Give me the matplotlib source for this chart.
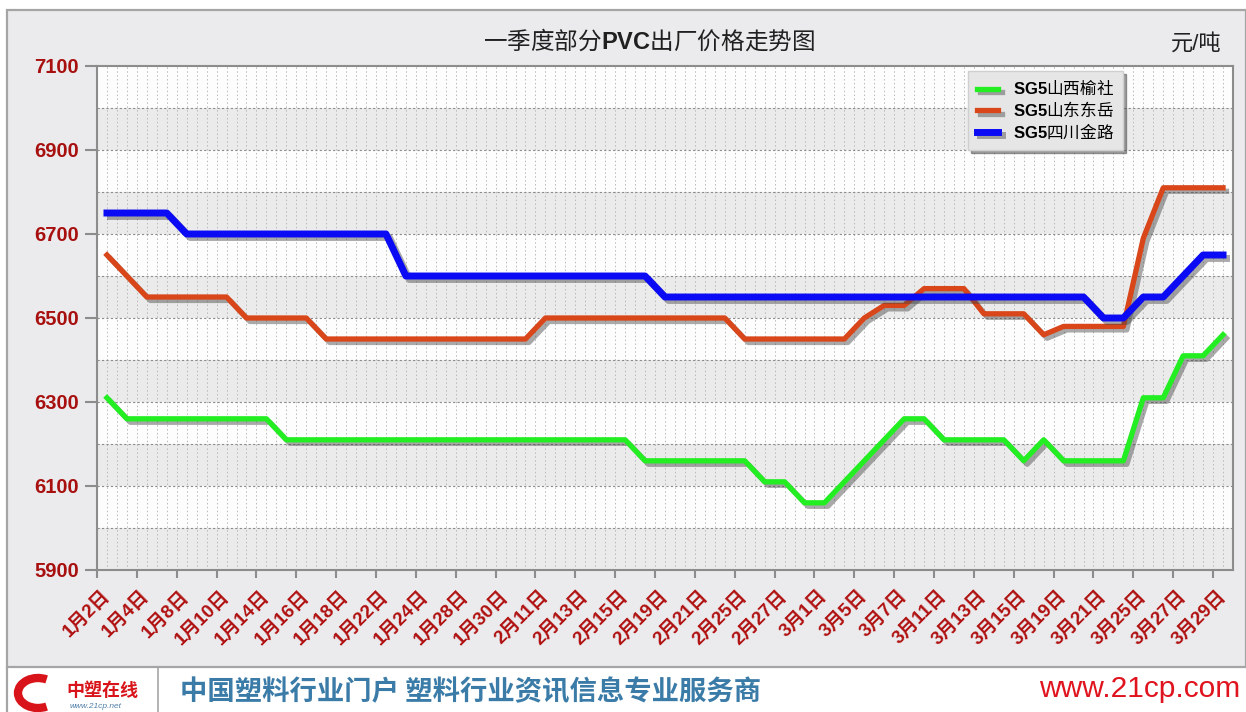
import numpy as np
import matplotlib
matplotlib.use("Agg")
import matplotlib.pyplot as plt
import matplotlib.patheffects as pe
from matplotlib.patches import Rectangle, Arc
from matplotlib.lines import Line2D

plt.rcParams['font.family'] = ['Liberation Sans', 'Noto Sans CJK SC', 'DejaVu Sans']
plt.rcParams['mathtext.fontset'] = 'custom'
plt.rcParams['mathtext.bf'] = 'Liberation Sans:bold'
plt.rcParams['mathtext.rm'] = 'Liberation Sans'

# 坐标轴上显示的日期（每两个交易日标一次）
date_labels = ["1月2日", "1月4日", "1月8日", "1月10日", "1月14日", "1月16日",
               "1月18日", "1月22日", "1月24日", "1月28日", "1月30日", "2月11日",
               "2月13日", "2月15日", "2月19日", "2月21日", "2月25日", "2月27日",
               "3月1日", "3月5日", "3月7日", "3月11日", "3月13日", "3月15日",
               "3月19日", "3月21日", "3月25日", "3月27日", "3月29日"]

# 山西榆社
yulin = [6310,
         6260, 6260, 6260, 6260, 6260, 6260, 6260, 6260,
         6210, 6210, 6210, 6210, 6210, 6210, 6210, 6210, 6210,
         6210, 6210, 6210, 6210, 6210, 6210, 6210, 6210, 6210,
         6160, 6160, 6160, 6160, 6160, 6160,
         6110, 6110, 6060, 6060, 6110, 6160, 6210, 6260, 6260,
         6210, 6210, 6210, 6210, 6160, 6210, 6160, 6160, 6160, 6160,
         6310, 6310, 6410, 6410, 6460]

# 山东东岳
dongyue = [6650, 6600,
           6550, 6550, 6550, 6550, 6550,
           6500, 6500, 6500, 6500,
           6450, 6450, 6450, 6450, 6450, 6450, 6450, 6450, 6450, 6450, 6450,
           6500, 6500, 6500, 6500, 6500, 6500, 6500, 6500, 6500, 6500,
           6450, 6450, 6450, 6450, 6450, 6450,
           6500, 6530, 6530, 6570, 6570, 6570, 6510, 6510, 6510, 6460,
           6480, 6480, 6480, 6480, 6690, 6810, 6810, 6810, 6810]

# 四川金路
jinlu = [6750, 6750, 6750, 6750,
         6700, 6700, 6700, 6700, 6700, 6700, 6700, 6700, 6700, 6700, 6700,
         6600, 6600, 6600, 6600, 6600, 6600, 6600, 6600, 6600, 6600, 6600, 6600, 6600,
         6550, 6550, 6550, 6550, 6550, 6550, 6550, 6550, 6550, 6550, 6550,
         6550, 6550, 6550, 6550, 6550, 6550, 6550, 6550, 6550, 6550, 6550,
         6500, 6500, 6550, 6550, 6600, 6650, 6650]

W, H = 1246, 712
fig = plt.figure(figsize=(W / 100, H / 100), dpi=100)
fig.patch.set_facecolor('white')

# 灰色背景面板和底部分隔线
fig.add_artist(Rectangle((7 / W, 1 - 667 / H), (W - 7) / W, (667 - 10) / H,
                         transform=fig.transFigure, facecolor='#EBEBED',
                         edgecolor='#A5A5A5', lw=1.6, zorder=-5))
fig.add_artist(Line2D([7 / W, 7 / W], [0, 1 - 667 / H], transform=fig.transFigure,
                      color='#A5A5A5', lw=1.6))
fig.add_artist(Line2D([158 / W, 158 / W], [0, 1 - 667 / H], transform=fig.transFigure,
                      color='#A5A5A5', lw=1.2))

ax = fig.add_axes([97 / W, 1 - 570 / H, 1136 / W, 504 / H])
ax.set_facecolor('#FDFDFD')

n = len(jinlu)
x = np.arange(n)

# 交替的灰白横条
for v in range(5900, 7100, 200):
    ax.axhspan(v, v + 100, color='#EBEBEB', zorder=0, lw=0)
# 竖向点线
for gx in np.arange(-0.5, n, 0.5):
    ax.axvline(gx, color='#B8B8B8', lw=0.7, ls=(0, (1.5, 2.5)), zorder=1)
# 横向虚线
for gy in range(6000, 7100, 100):
    ax.axhline(gy, color='#8C8C8C', lw=0.8, ls=(0, (2, 2)), zorder=1)

shadow = [pe.SimpleLineShadow(offset=(2.5, -2.5), shadow_color='#444444', alpha=0.45),
          pe.Normal()]

ax.plot(x, yulin, color='#22EE22', lw=3.8, label=r'$\mathbf{SG5}$山西榆社',
        path_effects=shadow, zorder=3)
ax.plot(x, dongyue, color='#D8461A', lw=3.8, label=r'$\mathbf{SG5}$山东东岳',
        path_effects=shadow, zorder=4)
ax.plot(x, jinlu, color='#0A0AF5', lw=5.0, label=r'$\mathbf{SG5}$四川金路',
        path_effects=shadow, zorder=5)

ax.set_xlim(-0.5, n - 0.5)
ax.set_ylim(5900, 7100)

ax.set_yticks(range(5900, 7101, 200))
ax.tick_params(axis='y', which='major', length=9, width=1.5, color='#8C8C8C',
               pad=4, labelsize=14.5, labelcolor='#A81010')
for lab in ax.get_yticklabels():
    lab.set_fontweight('bold')

ax.set_xticks(x[::2])
ax.set_xticklabels(date_labels, rotation=45, ha='right', va='center',
                   rotation_mode='anchor', fontsize=13.5, fontweight='bold',
                   color='#B01010')
ax.tick_params(axis='x', which='major', length=0, pad=17)
ax.set_xticks(np.arange(-0.5, n, 2), minor=True)
ax.tick_params(axis='x', which='minor', length=6, width=1.5, color='#8C8C8C')

for s in ax.spines.values():
    s.set_color('#8C8C8C')
    s.set_linewidth(1.5)

leg = ax.legend(loc='upper left', bbox_to_anchor=(0.767, 0.99), borderaxespad=0,
                frameon=True, fancybox=False, shadow=True, facecolor='#E6E6E6',
                edgecolor='#CFCFCF',
                prop={'family': 'Noto Sans CJK SC', 'size': 12},
                handlelength=1.3, handletextpad=0.9, labelspacing=0.15,
                borderpad=0.5)
leg.get_frame().set_alpha(1)

# 标题与单位
fig.text(649 / W, 1 - 40 / H, r'一季度部分$\mathbf{PVC}$出厂价格走势图',
         ha='center', va='center', fontsize=17, family='Noto Sans CJK SC', color='#202020')
fig.text(1222 / W, 1 - 44 / H, '元/吨', ha='right', va='center', fontsize=16,
         color='#202020')

# 页脚
fig.add_artist(Arc((38 / W, 1 - 693 / H), 40 / W, 30 / H, theta1=70, theta2=290,
                   transform=fig.transFigure, color='#D8141A', lw=6))
fig.text(66 / W, 1 - 690 / H, '中塑在线', fontsize=13, fontweight='bold', style='italic',
         color='#D8141A', family='Noto Sans CJK SC', va='center')
fig.text(70 / W, 1 - 706 / H, 'www.21cp.net', fontsize=6, style='italic',
         color='#4F7FA8', va='center')
fig.text(180 / W, 1 - 692 / H, '中国塑料行业门户 塑料行业资讯信息专业服务商',
         fontsize=19.7, fontweight='bold', color='#3A7BA8', family='Noto Sans CJK SC',
         va='center')
fig.text(1240 / W, 1 - 689 / H, 'www.21cp.com', ha='right', va='center', fontsize=21.5,
         color='#E0141E', family='Liberation Sans')

fig.savefig('out.png', dpi=100)
